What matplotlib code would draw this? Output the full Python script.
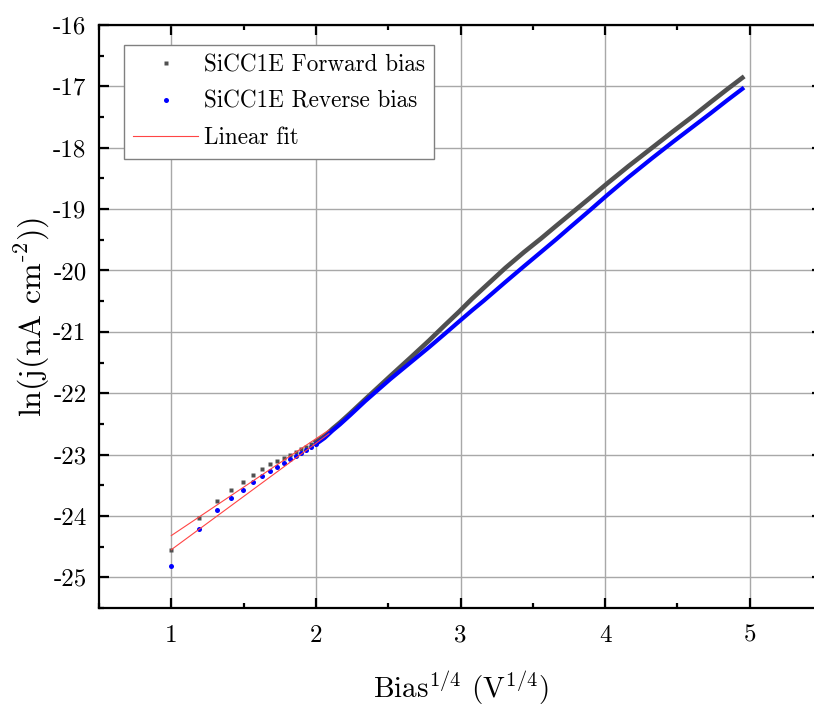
"""ln(j) vs Bias^(1/4) for SiCC1E, forward and reverse bias, with linear fits."""

import matplotlib
matplotlib.use("Agg")
import matplotlib.pyplot as plt
from matplotlib.ticker import MultipleLocator

plt.rcParams.update({
    "font.family": "serif",
    "font.serif": ["cmr10"],
    "mathtext.fontset": "cm",
    "axes.unicode_minus": False,
})

# bias voltages (V) of the plotted points
bias_v = [1, 2, 3, 4, 5, 6, 7, 8, 9, 10, 11, 12, 13, 14, 15, 16,
          18, 20, 22, 25, 30, 35, 40, 50, 60, 70, 80, 90, 100, 120, 140,
          160, 180, 200, 230, 260, 300, 350, 400, 450, 500, 550, 600]

forward_lnj = [-24.56, -24.03, -23.76, -23.58, -23.44, -23.33, -23.24, -23.16,
               -23.10, -23.05, -23.00, -22.96, -22.91, -22.87, -22.83, -22.79,
               -22.70, -22.58, -22.48, -22.33, -22.10, -21.90, -21.72, -21.41,
               -21.14, -20.89, -20.67, -20.46, -20.28, -19.96, -19.70, -19.48,
               -19.27, -19.08, -18.82, -18.58, -18.30, -18.00, -17.73, -17.49,
               -17.26, -17.05, -16.86]

reverse_lnj = [-24.82, -24.22, -23.91, -23.71, -23.57, -23.45, -23.35, -23.27,
               -23.20, -23.14, -23.08, -23.02, -22.97, -22.92, -22.88, -22.83,
               -22.73, -22.61, -22.51, -22.36, -22.13, -21.94, -21.77, -21.49,
               -21.25, -21.03, -20.83, -20.65, -20.49, -20.19, -19.93, -19.70,
               -19.49, -19.29, -19.02, -18.77, -18.48, -18.17, -17.90, -17.66,
               -17.44, -17.23, -17.04]

# linear fit end points (x in V^1/4)
fit_x = [1.0, 2.09]
forward_fit = [-24.32, -22.60]
reverse_fit = [-24.55, -22.66]

GRAY = "#505050"
BLUE = "#0000ff"
RED = "#ff4545"

x = [v ** 0.25 for v in bias_v]
dense = bias_v.index(16)  # from here on the points merge into a band
sparse = slice(0, dense + 1)

fig = plt.figure(figsize=(8.14, 7.11), dpi=100)
ax = fig.add_axes([99 / 814, 103 / 711, 723 / 814, 583 / 711])

ax.plot(x[dense:], forward_lnj[dense:], color=GRAY, lw=3.3, zorder=3)
ax.plot(x, forward_lnj, ls="none", marker="s", ms=3.2, color=GRAY,
        mec="none", markevery=sparse, zorder=3, label="SiCC1E Forward bias")
ax.plot(x[dense:], reverse_lnj[dense:], color=BLUE, lw=3.0, zorder=4)
ax.plot(x, reverse_lnj, ls="none", marker="o", ms=3.6, color=BLUE,
        mec="none", markevery=sparse, zorder=4, label="SiCC1E Reverse bias")

ax.plot(fit_x, forward_fit, color=RED, lw=0.8, zorder=5, label="Linear fit")
ax.plot(fit_x, reverse_fit, color=RED, lw=0.8, zorder=5)

ax.set_xlim(0.5, 5.5)
ax.set_ylim(-25.5, -16)
ax.xaxis.set_major_locator(MultipleLocator(1))
ax.xaxis.set_minor_locator(MultipleLocator(0.5))
ax.yaxis.set_major_locator(MultipleLocator(1))
ax.yaxis.set_minor_locator(MultipleLocator(0.5))

ax.grid(True, which="major", color="#a8a8a8", lw=1.0, zorder=0)
ax.set_axisbelow(True)
ax.tick_params(which="both", direction="in", top=True, right=True,
               width=1.6, labelsize=18)
ax.tick_params(which="major", length=7)
ax.tick_params(which="minor", length=3.5)
ax.tick_params(axis="y", pad=9)
ax.tick_params(axis="x", pad=12)
for spine in ax.spines.values():
    spine.set_linewidth(1.6)

ax.set_xlabel(r"Bias$^{1/4}$ (V$^{1/4}$)", fontsize=21, labelpad=16)
ax.set_ylabel(r"ln(j(nA cm$^{\text{-}2}$))", fontsize=23, labelpad=1)

leg = ax.legend(loc="upper left", bbox_to_anchor=(25 / 723, 563 / 583),
                borderaxespad=0, fontsize=16.7, frameon=True, fancybox=False,
                framealpha=1, edgecolor="#808080", handlelength=2.8,
                handletextpad=0.25, labelspacing=0.62, borderpad=0.4,
                numpoints=1)
leg.get_frame().set_linewidth(1.0)

fig.savefig("out.png", dpi=100)
